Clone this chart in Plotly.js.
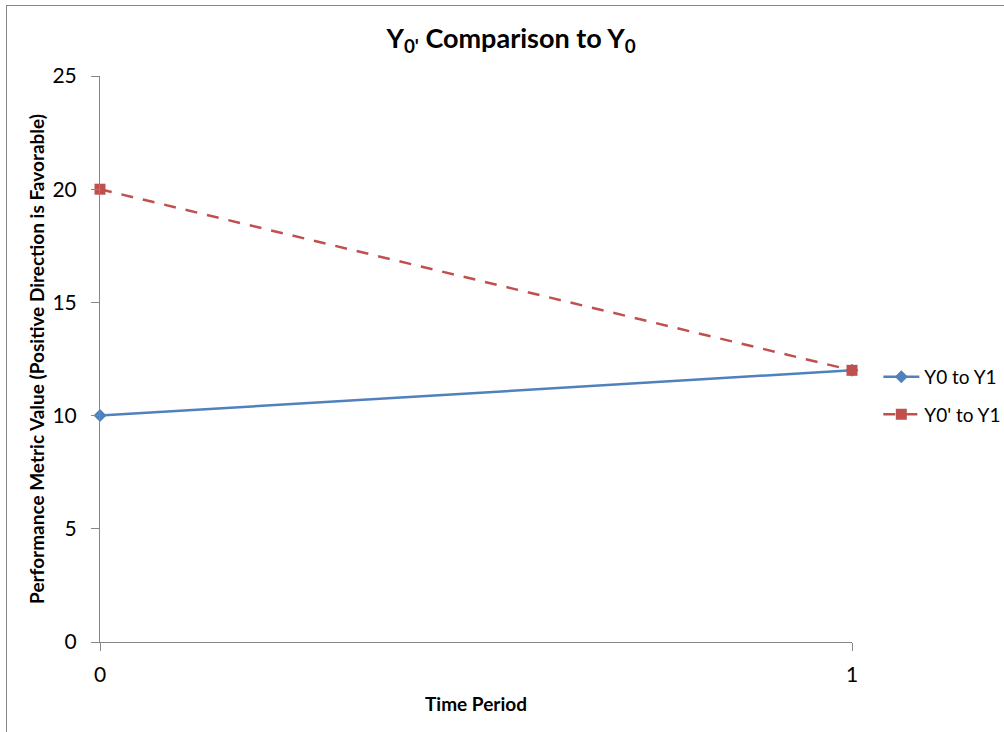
<!DOCTYPE html>
<html>
<head>
<meta charset="utf-8">
<script src="https://cdn.plot.ly/plotly-3.0.1.min.js"></script>
<style>
  html, body { margin: 0; padding: 0; background: #fff; }
  #wrap { position: relative; width: 1004px; height: 732px; overflow: hidden; }
  #chart { width: 1004px; height: 732px; }
  #frame { position: absolute; left: 6px; top: 5px; width: 1100px; height: 800px;
           border-left: 1px solid #868686; border-top: 1px solid #868686; pointer-events: none; }
</style>
</head>
<body>
<div id="wrap">
  <div id="chart"></div>
  <div id="frame"></div>
</div>
<script>
const periods = [0, 1];
const seriesNames = ["Y0 to Y1", "Y0' to Y1"];
const y0ToY1 = [10, 12];
const y0pToY1 = [20, 12];
const xTickLabels = ["0", "1"];
const yTicks = [0, 5, 10, 15, 20, 25];

const FONT = "Lato, 'Open Sans', 'DejaVu Sans', sans-serif";

const traces = [
  {
    x: periods, y: y0ToY1, name: seriesNames[0], type: "scatter", mode: "lines+markers",
    legendgroup: "g1",
    line: { color: "#4F81BD", width: 2.5 },
    marker: { symbol: "diamond", size: 10, color: "#4F81BD" },
    cliponaxis: false
  },
  {
    x: periods, y: y0pToY1, name: seriesNames[1], type: "scatter", mode: "lines+markers",
    legendgroup: "g2",
    line: { color: "#C0504D", width: 2.5, dash: "12px,10px" },
    marker: { symbol: "square", size: 11, color: "#C0504D" },
    cliponaxis: false
  }
];

const layout = {
  width: 1004, height: 732,
  margin: { l: 100, r: 152, t: 76, b: 90, autoexpand: false },
  paper_bgcolor: "#fff", plot_bgcolor: "#fff",
  font: { family: FONT, color: "#000" },
  title: {
    text: "<b>Y<sub>0'</sub> Comparison to Y<sub>0</sub></b>",
    font: { size: 27, family: FONT, color: "#000" },
    x: 0.509, xref: "container", xanchor: "center", y: 0.948, yanchor: "middle"
  },
  xaxis: {
    range: [0, 1], tickvals: periods, ticktext: xTickLabels,
    showline: true, linecolor: "#868686", linewidth: 1,
    ticks: "outside", ticklen: 8, tickcolor: "#868686", ticklabelstandoff: 6,
    showgrid: true, gridcolor: "#868686", gridwidth: 1, zeroline: false,
    tickfont: { size: 21, family: FONT, color: "#000" },
    title: { text: "<b>Time Period</b>", font: { size: 19, family: FONT, color: "#000" }, standoff: 12 }
  },
  yaxis: {
    range: [0, 25], tickvals: yTicks,
    showline: true, linecolor: "#868686", linewidth: 1,
    ticks: "outside", ticklen: 8, tickcolor: "#868686", ticklabelstandoff: 10,
    showgrid: false, zeroline: false,
    tickfont: { size: 21, family: FONT, color: "#000" },
    title: { text: "<b>Performance Metric Value (Positive Direction is Favorable)</b>", font: { size: 19, family: FONT, color: "#000" }, standoff: 2 }
  },
  legend: {
    x: 1.035, xanchor: "left", y: 0.435, yanchor: "middle",
    font: { size: 19, family: FONT, color: "#000" },
    bgcolor: "rgba(0,0,0,0)", tracegroupgap: 10, itemwidth: 36
  },
  showlegend: true
};

Plotly.newPlot("chart", traces, layout, { displayModeBar: false, staticPlot: true });
</script>
</body>
</html>
